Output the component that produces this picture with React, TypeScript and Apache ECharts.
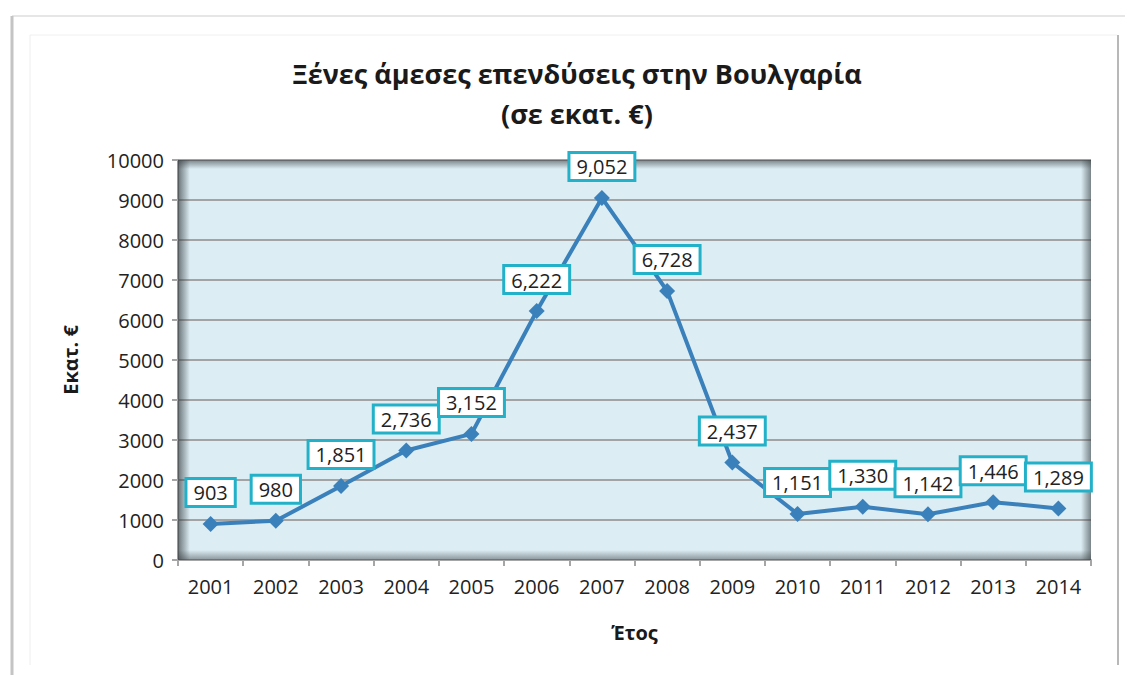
import React, { useEffect, useRef } from "react";
import * as echarts from "echarts";

const years = ["2001", "2002", "2003", "2004", "2005", "2006", "2007", "2008", "2009", "2010", "2011", "2012", "2013", "2014"];
const fdi = [903, 980, 1851, 2736, 3152, 6222, 9052, 6728, 2437, 1151, 1330, 1142, 1446, 1289];
const titleLines = ["Ξένες άμεσες επενδύσεις στην Βουλγαρία", "(σε εκατ. €)"];
const yName = "Εκατ. €";
const xName = "Έτος";

const FONT = "'Open Sans', 'Noto Sans', sans-serif";

export default function App() {
  const ref = useRef<HTMLDivElement>(null);
  useEffect(() => {
    if (!ref.current) return;
    const chart = echarts.init(ref.current, null, { renderer: "svg" });
    const gL = 178, gT = 160, gR = 1091, gB = 560;
    const shade = (x: number, y: number, w: number, h: number, dir: number[], a: number) => ({
      type: "rect",
      silent: true,
      z: 1,
      shape: { x, y, width: w, height: h },
      style: {
        fill: new echarts.graphic.LinearGradient(dir[0], dir[1], dir[2], dir[3], [
          { offset: 0, color: `rgba(55,62,66,${a})` },
          { offset: 1, color: "rgba(55,62,66,0)" },
        ]),
      },
    });
    chart.setOption({
      animation: false,
      backgroundColor: "#ffffff",
      textStyle: { fontFamily: FONT },
      title: {
        text: titleLines.join("\n"),
        left: 572,
        top: 48,
        textAlign: "center",
        textStyle: { fontFamily: FONT, fontSize: 27, fontWeight: "bold", color: "#1a1a1a", lineHeight: 40 },
      },
      grid: {
        left: gL,
        top: gT,
        right: 1125 - gR,
        bottom: 675 - gB,
        show: true,
        backgroundColor: "#dcedf3",
        borderWidth: 0,
      },
      graphic: [
        { type: "line", silent: true, shape: { x1: 12, y1: 16, x2: 1125, y2: 16 }, style: { stroke: "#e6e6e6", lineWidth: 2 } },
        { type: "line", silent: true, shape: { x1: 12, y1: 16, x2: 12, y2: 675 }, style: { stroke: "#c4c4c4", lineWidth: 3 } },
        { type: "line", silent: true, shape: { x1: 30, y1: 35, x2: 1117, y2: 35 }, style: { stroke: "#f0f0f0", lineWidth: 1 } },
        { type: "line", silent: true, shape: { x1: 30, y1: 35, x2: 30, y2: 665 }, style: { stroke: "#eeeeee", lineWidth: 1 } },
        { type: "line", silent: true, shape: { x1: 1118, y1: 35, x2: 1118, y2: 665 }, style: { stroke: "#b8b8b8", lineWidth: 2 } },
        shade(gL, gT, 12, gB - gT, [0, 0, 1, 0], 0.7),
        shade(gL, gT, gR - gL, 9, [0, 0, 0, 1], 0.6),
        shade(gR - 10, gT, 10, gB - gT, [1, 0, 0, 0], 0.6),
        shade(gL, gB - 10, gR - gL, 10, [0, 1, 0, 0], 0.5),
      ],
      xAxis: {
        type: "category",
        data: years,
        boundaryGap: true,
        name: xName,
        nameLocation: "middle",
        nameGap: 62,
        nameTextStyle: { fontFamily: FONT, fontSize: 20, fontWeight: "bold", color: "#1a1a1a" },
        axisLine: { show: true, lineStyle: { color: "#a6a6a6", width: 2 } },
        axisTick: { show: true, alignWithLabel: false, length: 6, lineStyle: { color: "#a6a6a6", width: 2 } },
        axisLabel: { fontFamily: FONT, fontSize: 20, color: "#222", margin: 16 },
        splitLine: { show: false },
      },
      yAxis: {
        type: "value",
        min: 0,
        max: 10000,
        interval: 1000,
        name: yName,
        nameLocation: "middle",
        nameGap: 98,
        nameRotate: 90,
        nameTextStyle: { fontFamily: FONT, fontSize: 20, fontWeight: "bold", color: "#1a1a1a" },
        axisLine: { show: true, lineStyle: { color: "#9a9a9a", width: 2 } },
        axisTick: { show: true, length: 6, lineStyle: { color: "#a6a6a6", width: 2 } },
        axisLabel: { fontFamily: FONT, fontSize: 20, color: "#222", margin: 14, formatter: (v: number) => String(v) },
        splitLine: { show: true, lineStyle: { color: "#a3a3a3", width: 2 } },
      },
      series: [
        {
          type: "line",
          data: fdi,
          z: 5,
          symbol: "diamond",
          symbolSize: 16,
          lineStyle: { color: "#3a80bb", width: 4 },
          itemStyle: { color: "#3a80bb" },
          label: {
            show: true,
            position: "top",
            distance: 11,
            formatter: (p: any) => Number(p.value).toLocaleString("en-US"),
            fontFamily: FONT,
            fontSize: 20,
            color: "#222",
            backgroundColor: "#ffffff",
            borderColor: "#22b1c8",
            borderWidth: 3,
            padding: [3, 6, 2, 6],
          },
        },
      ],
    });
    return () => chart.dispose();
  }, []);
  return <div ref={ref} style={{ position: "absolute", left: 0, top: 0, width: 1125, height: 675 }} />;
}
